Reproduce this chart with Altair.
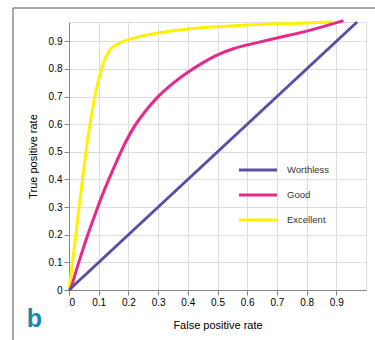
import altair as alt
import pandas as pd

# ---- data ----
worthless_x = [0.0, 0.97]
worthless_y = [0.0, 0.97]

good_x = [0.005, 0.03, 0.06, 0.09, 0.12, 0.15, 0.18, 0.216, 0.26, 0.3, 0.35, 0.4, 0.45, 0.5, 0.553, 0.6, 0.644, 0.7, 0.8, 0.924]
good_y = [0.0, 0.09, 0.19, 0.28, 0.365, 0.44, 0.512, 0.585, 0.651, 0.7, 0.748, 0.788, 0.822, 0.851, 0.873, 0.887, 0.898, 0.912, 0.937, 0.975]

exc_x = [0.0, 0.02, 0.035, 0.05, 0.065, 0.08, 0.095, 0.11, 0.125, 0.14, 0.16, 0.2, 0.25, 0.3, 0.4, 0.5, 0.6, 0.75, 0.886]
exc_y = [0.0, 0.17, 0.31, 0.44, 0.56, 0.66, 0.74, 0.8, 0.845, 0.872, 0.888, 0.906, 0.92, 0.93, 0.945, 0.953, 0.959, 0.965, 0.97]

series = ["Worthless", "Good", "Excellent"]
colors = ["#5a4fa6", "#e8288a", "#fff200"]

x_ticks = [0, 0.1, 0.2, 0.3, 0.4, 0.5, 0.6, 0.7, 0.8, 0.9]
y_ticks = [0, 0.1, 0.2, 0.3, 0.4, 0.5, 0.6, 0.7, 0.8, 0.9]

rows = []
for name, xs, ys in [("Excellent", exc_x, exc_y), ("Good", good_x, good_y), ("Worthless", worthless_x, worthless_y)]:
    for i, (a, b) in enumerate(zip(xs, ys)):
        rows.append({"series": name, "fpr": a, "tpr": b, "i": i})
df = pd.DataFrame(rows)

FONT = "Liberation Sans"
W, H = 297, 268
PL, PT = 69, 22

lines = alt.Chart(df).mark_line(strokeWidth=3, interpolate="monotone", clip=False).encode(
    x=alt.X("fpr:Q", scale=alt.Scale(domain=[0, 1], nice=False),
            axis=alt.Axis(values=x_ticks, format=".1~f", title="False positive rate",
                          titlePadding=12, titleFontWeight="normal")),
    y=alt.Y("tpr:Q", scale=alt.Scale(domain=[0, 0.97], nice=False),
            axis=alt.Axis(values=y_ticks, format=".1~f", title="True positive rate",
                          titlePadding=10, titleFontWeight="normal")),
    color=alt.Color("series:N", scale=alt.Scale(domain=series, range=colors), legend=None),
    order="i:Q",
    detail="series:N",
)

# manual legend (decoration)
legend_layers = []
for k, (name, col) in enumerate(zip(series, colors)):
    yy = 170 + 25 * k - PT
    legend_layers.append(
        alt.Chart(pd.DataFrame({"k": [0]})).mark_rule(color=col, strokeWidth=3, clip=False).encode(
            x=alt.value(239 - PL), x2=alt.value(277 - PL), y=alt.value(yy)))
    legend_layers.append(
        alt.Chart(pd.DataFrame({"t": [name]})).mark_text(
            font=FONT, fontSize=9.5, color="#333333", align="left", baseline="middle").encode(
            text="t:N", x=alt.value(287 - PL), y=alt.value(yy)))

frame_top = alt.Chart(pd.DataFrame({"k": [0]})).mark_rule(color="#555555", strokeWidth=1, clip=False).encode(
    x=alt.value(13 - PL), x2=alt.value(375 - PL), y=alt.value(8 - PT)
)
frame_left = alt.Chart(pd.DataFrame({"k": [0]})).mark_rule(color="#555555", strokeWidth=1, clip=False).encode(
    x=alt.value(13 - PL), y=alt.value(8 - PT), y2=alt.value(340 - PT)
)
letter = alt.Chart(pd.DataFrame({"t": ["b"]})).mark_text(
    fontSize=25, fontWeight="bold", font=FONT, color="#1a89a8", align="center", baseline="alphabetic"
).encode(text="t:N", x=alt.value(34.5 - PL), y=alt.value(327 - PT))

chart = alt.layer(lines, *legend_layers, frame_top, frame_left, letter).properties(
    width=W, height=H,
    autosize=alt.AutoSizeParams(type="none"),
    padding={"left": PL, "top": PT, "right": 375 - PL - W, "bottom": 340 - PT - H},
).configure_view(stroke=None).configure_axis(
    domainColor="#222222", domainWidth=3, tickColor="#222222", tickWidth=2.5, tickSize=5,
    grid=False, labelFont=FONT, labelFontSize=9.5, labelColor="#333333", labelPadding=2,
    titleFont=FONT, titleFontSize=9, titleFontWeight="normal", titleColor="#222222",
).configure(background="white")

chart.save("out.html", embed_options={"renderer": "svg", "actions": False})
